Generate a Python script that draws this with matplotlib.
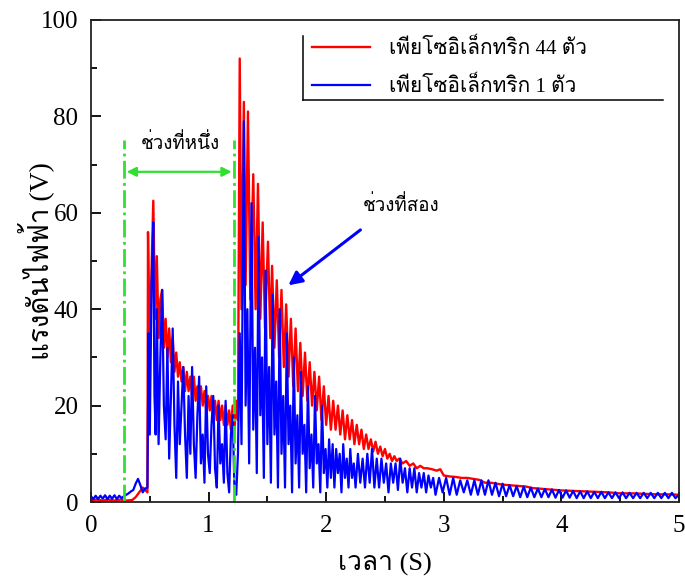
import matplotlib
matplotlib.use("Agg")
import matplotlib.pyplot as plt
from matplotlib import font_manager
from matplotlib.ft2font import FT2Font
from matplotlib.lines import Line2D

# --- data (time in s, voltage in V) ---
red_t = [0.00, 0.05, 0.10, 0.15, 0.20, 0.25, 0.30, 0.35, 0.38, 0.41, 0.44, 0.46, 0.48,
         0.485, 0.50, 0.515, 0.53, 0.545, 0.56, 0.575, 0.59, 0.605, 0.62, 0.635, 0.65,
         0.665, 0.68, 0.695, 0.71, 0.725, 0.74, 0.755, 0.77, 0.785, 0.80, 0.815, 0.83,
         0.845, 0.86, 0.875, 0.89, 0.905, 0.92, 0.935, 0.95, 0.965, 0.98, 0.995, 1.01,
         1.025, 1.04, 1.055, 1.07, 1.085, 1.10, 1.115, 1.13, 1.145, 1.16, 1.175, 1.19,
         1.205, 1.22, 1.235, 1.25,
         1.265, 1.28, 1.30, 1.315, 1.335, 1.355, 1.38, 1.40, 1.42, 1.44, 1.46, 1.48,
         1.505, 1.525, 1.54, 1.56, 1.58, 1.60, 1.62, 1.64, 1.66, 1.68, 1.70, 1.72,
         1.74, 1.76, 1.78, 1.80, 1.82, 1.84, 1.86, 1.88, 1.90, 1.92, 1.94, 1.96,
         1.98, 2.00, 2.02, 2.04, 2.06, 2.08, 2.10, 2.12, 2.14, 2.16, 2.18, 2.20,
         2.22, 2.24, 2.26, 2.28, 2.30, 2.32, 2.34, 2.36, 2.38, 2.40, 2.42, 2.44,
         2.46, 2.48, 2.50, 2.52, 2.54, 2.56, 2.58, 2.60, 2.62, 2.65, 2.68, 2.71,
         2.74, 2.77, 2.80, 2.83, 2.86, 2.90, 2.94, 2.97, 3.00, 3.05, 3.10, 3.15,
         3.20, 3.25, 3.30, 3.35, 3.40, 3.45, 3.50, 3.55, 3.60, 3.65, 3.70, 3.75,
         3.80, 3.85, 3.90, 3.95, 4.00, 4.10, 4.20, 4.30, 4.40, 4.50, 4.60, 4.70,
         4.80, 4.90, 5.00]
red_v = [0.3, 0.5, 0.3, 0.5, 0.3, 0.5, 0.3, 0.4, 1.0, 2.0, 3.0, 2.5, 2.0,
         56, 30, 48, 62.5, 38, 51, 34, 42, 44, 32, 38, 30,
         36, 29, 34, 27, 31, 26, 29, 25, 28, 23, 27, 23,
         26, 22, 26, 21, 24, 21, 24, 20, 23, 19, 22, 19,
         22, 18, 21, 17, 21, 17, 20, 16, 20, 16, 19, 15,
         20, 15, 21, 17,
         92, 40, 83, 45, 81, 42, 68, 40, 66, 38, 58, 36,
         54, 34, 49, 32, 46, 30, 44, 28, 41, 26, 38, 24,
         36, 23, 33, 22, 31, 21, 29, 20, 27, 19, 26, 17,
         24, 16, 22, 15, 21, 15, 20, 14, 19, 13, 18, 13,
         17, 12, 16, 12, 15, 11, 14, 11, 13, 10.5, 12.5, 10,
         11.5, 9.5, 11, 9, 10, 8.5, 9.5, 8.5, 9, 8, 8.5, 7.5,
         8, 7, 7.5, 7, 7, 6.8, 6.5, 6.8, 5.5, 5.3, 5.2, 5.0,
         5.0, 4.8, 4.6, 4.0, 4.0, 3.8, 3.6, 3.5, 3.4, 3.3, 3.2, 2.9,
         2.8, 2.7, 2.6, 2.5, 2.4, 2.3, 2.2, 2.1, 2.0, 1.8, 1.8, 1.7,
         1.6, 1.6, 1.5]

blue_t = [0.00, 0.02, 0.04, 0.06, 0.08, 0.10, 0.12, 0.14, 0.16, 0.18, 0.20, 0.22,
          0.24, 0.26, 0.28, 0.30, 0.32, 0.34, 0.36, 0.38, 0.40, 0.42, 0.44, 0.46, 0.48,
          0.49, 0.50, 0.515, 0.53, 0.54, 0.55, 0.56, 0.575, 0.59, 0.605, 0.62, 0.635,
          0.65, 0.665, 0.68, 0.695, 0.71, 0.725, 0.74, 0.755, 0.77, 0.785, 0.80, 0.815,
          0.83, 0.845, 0.86, 0.875, 0.89, 0.905, 0.92, 0.935, 0.95, 0.965, 0.98, 0.995,
          1.01, 1.025, 1.04, 1.055, 1.07, 1.085, 1.10, 1.115, 1.13, 1.145, 1.16, 1.175,
          1.19, 1.205, 1.22, 1.235, 1.25,
          1.265, 1.28, 1.30, 1.315, 1.33, 1.345, 1.365, 1.38, 1.395, 1.41, 1.425, 1.44,
          1.455, 1.47, 1.485, 1.50, 1.515, 1.53, 1.545, 1.56, 1.575, 1.59, 1.605, 1.62,
          1.635, 1.65, 1.665, 1.68, 1.695, 1.71, 1.725, 1.74, 1.755, 1.77, 1.785, 1.80,
          1.815, 1.83, 1.845, 1.86, 1.875, 1.89, 1.905, 1.92, 1.935, 1.95, 1.965, 1.98,
          1.995, 2.01, 2.025, 2.04, 2.055, 2.07, 2.085, 2.10, 2.115, 2.13, 2.145, 2.16,
          2.175, 2.19, 2.205, 2.22, 2.235, 2.25, 2.27, 2.29, 2.31, 2.33, 2.35, 2.37,
          2.39, 2.41, 2.43, 2.45, 2.47, 2.49, 2.51, 2.53, 2.55, 2.57, 2.59, 2.61,
          2.63, 2.65, 2.67, 2.69, 2.71, 2.73, 2.75, 2.77, 2.79, 2.81, 2.83, 2.85,
          2.87, 2.89, 2.91, 2.93, 2.96, 2.99, 3.02, 3.05, 3.08, 3.11, 3.14, 3.17,
          3.20, 3.23, 3.26, 3.29, 3.32, 3.35, 3.38, 3.41, 3.44, 3.47, 3.50, 3.53,
          3.56, 3.59, 3.62, 3.65, 3.68, 3.71, 3.74, 3.77, 3.80, 3.83, 3.86, 3.89,
          3.92, 3.95, 3.98, 4.01, 4.04, 4.07, 4.10, 4.13, 4.16, 4.19, 4.22, 4.25,
          4.28, 4.31, 4.34, 4.37, 4.40, 4.43, 4.46, 4.49, 4.52, 4.55, 4.58, 4.61,
          4.64, 4.67, 4.70, 4.73, 4.76, 4.79, 4.82, 4.85, 4.88, 4.91, 4.94, 4.97, 5.00]
blue_v = [1.2, 0.6, 1.3, 0.6, 1.3, 0.7, 1.4, 0.6, 1.3, 0.7, 1.4, 0.6,
          1.3, 0.8, 1.2, 1.5, 1.8, 2.2, 2.5, 3.8, 4.8, 3.5, 2.0, 2.8, 3.0,
          35, 14, 45, 58, 22, 14, 40, 12, 30, 44, 20, 13,
          32, 9, 22, 36, 16, 5, 25, 12, 20, 28, 14, 5,
          22, 10, 28, 12, 5, 18, 26, 8, 14, 4, 24, 10,
          6, 16, 22, 7, 3, 20, 8, 12, 4, 21, 6, 2,
          14, 18, 3, 1.5, 10,
          35, 12, 79, 20, 40, 8, 62, 15, 32, 6, 55, 18,
          30, 5, 48, 12, 28, 4, 43, 14, 25, 3, 40, 10,
          22, 3, 35, 12, 20, 2, 30, 8, 18, 3, 27, 10,
          16, 2, 24, 7, 14, 3, 22, 8, 12, 2, 20, 6,
          11, 3, 13, 5, 12, 3, 11, 6, 10, 2, 12, 5,
          9, 3, 11, 5, 8, 3, 10, 4, 9, 3, 10, 4,
          11, 3, 9, 3, 9, 4, 8, 2, 8, 4, 8, 2.5,
          9, 4, 7, 2, 7, 3, 7, 2, 6, 3, 6, 2,
          5.5, 3, 5, 1.5, 5, 2, 5, 1.5, 5, 1.5, 4.5, 2,
          4.5, 1.5, 4.5, 1.5, 4.5, 1.5, 4.5, 1.5, 4, 1.2, 3.8, 1.2,
          3.5, 1.2, 3.3, 1.0, 3.2, 1.0, 3.0, 1.0, 2.8, 1.0, 2.7, 1.0,
          2.6, 0.9, 2.5, 0.9, 2.4, 0.9, 2.3, 0.8, 2.2, 0.8, 2.2, 0.8,
          2.1, 0.8, 2.1, 0.8, 2.0, 0.8, 2.0, 0.8, 2.0, 0.8, 1.9, 0.8,
          1.9, 0.8, 1.9, 0.8, 1.9, 0.8, 1.9, 0.8, 1.9, 0.8, 1.9, 0.8, 1.5]

legend_labels = ["เพียโซอิเล็กทริก 44 ตัว", "เพียโซอิเล็กทริก 1 ตัว"]
phase1_label = "ช่วงที่หนึ่ง"
phase2_label = "ช่วงที่สอง"
phase1_bounds = [0.28, 1.22]


def find_thai_font():
    # pick any installed font that has Thai glyphs
    for f in font_manager.fontManager.ttflist:
        try:
            if 0x0E40 in FT2Font(f.fname).get_charmap():
                return f.name
        except Exception:
            continue
    return None


thai = find_thai_font()
families = ["Liberation Serif"] + ([thai] if thai else []) + ["DejaVu Sans"]
plt.rcParams["font.family"] = families

GREEN = "#2fe02f"

fig = plt.figure(figsize=(6.85, 5.84), dpi=100)
ax = fig.add_axes([0.1328, 0.1404, 0.8584, 0.8254])

ax.plot(red_t, red_v, color="red", lw=1.7, label=legend_labels[0])
ax.plot(blue_t, blue_v, color="blue", lw=1.6, label=legend_labels[1])

# phase one markers
for xv in phase1_bounds:
    ax.plot([xv, xv], [0, 75], color=GREEN, ls="-.", lw=2)
ax.annotate("", xy=(phase1_bounds[0], 68.5), xytext=(phase1_bounds[1], 68.5),
            arrowprops=dict(arrowstyle="<|-|>", color=GREEN, lw=1.6, mutation_scale=14))
ax.text(0.76, 74.5, phase1_label, ha="center", va="center", fontsize=13.5)

# phase two arrow
ax.annotate("", xy=(1.66, 44.6), xytext=(2.31, 56.8),
            arrowprops=dict(arrowstyle="-|>", color="blue", lw=2.2, mutation_scale=20))
ax.text(2.64, 61.5, phase2_label, ha="center", va="center", fontsize=13.5)

ax.set_xlim(0, 5)
ax.set_ylim(0, 100)
ax.set_xticks([0, 1, 2, 3, 4, 5])
ax.set_xticks([0.5, 1.5, 2.5, 3.5, 4.5], minor=True)
ax.set_yticks([0, 20, 40, 60, 80, 100])
ax.set_yticks([10, 30, 50, 70, 90], minor=True)
ax.tick_params(which="both", direction="in", labelsize=18, width=1.3, top=False, right=False)
ax.tick_params(which="major", length=7, pad=9)
ax.tick_params(which="minor", length=4)
for s in ax.spines.values():
    s.set_linewidth(1.3)
    s.set_color("#222222")

ax.set_xlabel("เวลา (S)", fontsize=19)
ax.set_ylabel("แรงดันไฟฟ้า (V)", fontsize=20)
ax.xaxis.set_label_coords(0.5, -0.105)
ax.yaxis.set_label_coords(-0.062, 0.5)

leg = ax.legend(loc="upper left", bbox_to_anchor=(0.362, 0.978), frameon=False,
                fontsize=15, handlelength=2.8, handletextpad=0.9, labelspacing=0.85,
                borderaxespad=0)
# legend box only has its left and bottom edges drawn
ax.add_line(Line2D([0.3605, 0.3605], [0.834, 0.967], transform=ax.transAxes,
                   color="black", lw=1.1, clip_on=False))
ax.add_line(Line2D([0.3605, 0.973], [0.834, 0.834], transform=ax.transAxes,
                   color="black", lw=1.1, clip_on=False))

fig.savefig("out.png", dpi=100)
